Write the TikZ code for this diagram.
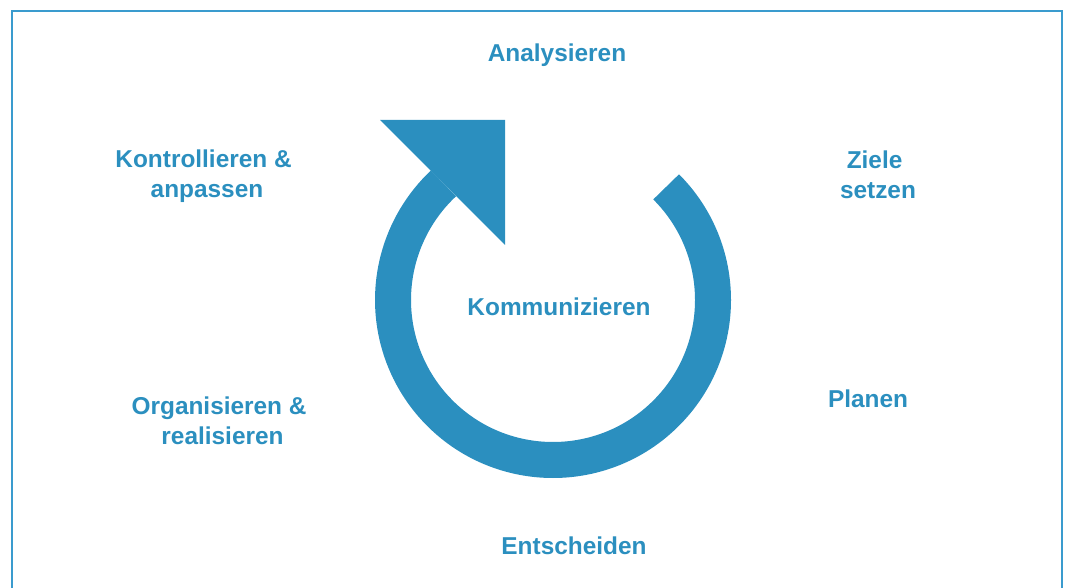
\documentclass[tikz,border=0pt]{standalone}
\usepackage{fontspec}
\setmainfont{Liberation Sans}
\definecolor{cycleblue}{RGB}{43,143,191}
\definecolor{frameblue}{RGB}{58,155,206}
\tikzset{
  lbl/.style={font=\bfseries\fontsize{24.4}{30}\selectfont, text=cycleblue, inner sep=0pt, anchor=base, align=center},
  ring/.style={draw=cycleblue, line width=36pt},
  head/.style={fill=cycleblue, draw=none},
  frame/.style={draw=frameblue, line width=1.5pt}
}
\begin{document}
\begin{tikzpicture}[x=1pt,y=1pt]
\useasboundingbox (0,0) rectangle (1065,587);
\draw[frame] (12,-5) -- (12,576) -- (1062,576) -- (1062,-5);
\coordinate (C) at (553,287);
\draw[ring] (C) ++(45:160) arc[start angle=45, end angle=-226.8, radius=160];
\fill[head] (380,467) -- (505,467) -- (505,342) -- cycle;
\node[lbl] (ana) at (557,525) {Analysieren};
\node[lbl] (kon) at (207,389) {Kontrollieren \&\hspace*{0.28em}\\anpassen};
\node[lbl] (zie) at (878,388) {Ziele\hspace*{0.28em}\\setzen};
\node[lbl] (kom) at (559,271) {Kommunizieren};
\node[lbl] (pla) at (868,179.5) {Planen};
\node[lbl] (org) at (222.5,143) {Organisieren \&\hspace*{0.28em}\\realisieren};
\node[lbl] (ent) at (574,33) {Entscheiden};
\end{tikzpicture}
\end{document}
